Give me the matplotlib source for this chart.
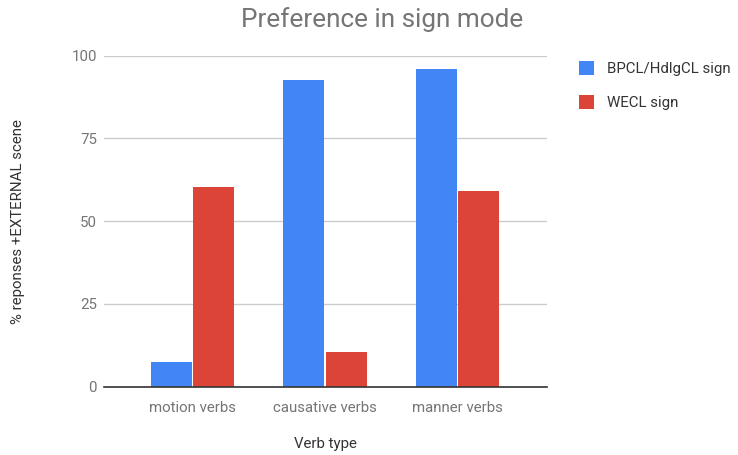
import matplotlib
matplotlib.use("Agg")
import matplotlib.pyplot as plt
import numpy as np

categories = ["motion verbs", "causative verbs", "manner verbs"]
series_names = ["BPCL/HdlgCL sign", "WECL sign"]
bpcl_values = [7.6, 92.7, 95.9]
wecl_values = [60.4, 10.5, 59.2]
y_ticks = [0, 25, 50, 75, 100]

plt.rcParams['font.family'] = ['Roboto', 'DejaVu Sans']

fig = plt.figure(figsize=(7.38, 4.55), dpi=100)
ax = fig.add_axes([104/738, 1-386.7/455, (547-104)/738, (386.7-55.7)/455])

x = np.arange(len(categories))
w = 0.31
gap = 0.006
b1 = ax.bar(x - w/2 - gap, bpcl_values, width=w, color="#4285f4", label=series_names[0], zorder=3)
b2 = ax.bar(x + w/2 + gap, wecl_values, width=w, color="#db4437", label=series_names[1], zorder=3)

ax.set_xlim(-0.668, 2.675)
ax.set_ylim(0, 100)
ax.set_yticks(y_ticks)
ax.set_yticklabels([str(t) for t in y_ticks], fontsize=10.8, color="#757575")
ax.set_xticks(x)
ax.set_xticklabels(categories, fontsize=10.8, color="#757575")
ax.tick_params(axis='both', length=0)
ax.tick_params(axis='y', pad=5)
ax.tick_params(axis='x', pad=10)
ax.yaxis.grid(True, color="#cccccc", linewidth=1, zorder=0)
ax.set_axisbelow(True)
for s in ["top", "right", "left"]:
    ax.spines[s].set_visible(False)
ax.spines["bottom"].set_color("#333333")
ax.spines["bottom"].set_linewidth(1.2)
ax.spines["bottom"].set_zorder(4)

ax.set_xlabel("Verb type", fontsize=10.8, color="#333333", va="center")
ax.xaxis.set_label_coords(0.5, -(444 - 386.7) / 331)
ax.yaxis.set_label_coords(-(104 - 18) / 443, 0.5)
ax.set_ylabel("% reponses +EXTERNAL scene", fontsize=10.8, color="#333333", va="center")
fig.text(382/738, 1-20/455, "Preference in sign mode", ha="center", va="center",
         fontsize=18.8, color="#757575")

leg = fig.legend(handles=[b1, b2], loc="upper left", bbox_to_anchor=(565/738, 1-48/455),
                 frameon=False, fontsize=10.8, handlelength=1.0, handleheight=1.0,
                 handletextpad=0.9, labelspacing=1.25, labelcolor="#333333")

fig.savefig("out.png", dpi=100)
